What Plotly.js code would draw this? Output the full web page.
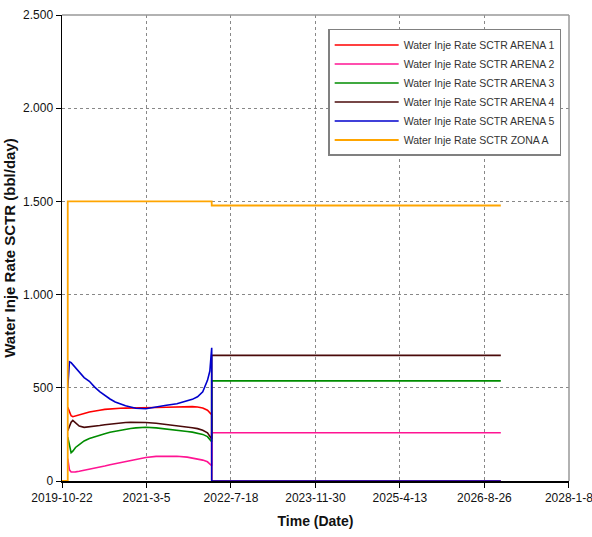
<!DOCTYPE html>
<html>
<head>
<meta charset="utf-8">
<script src="https://cdn.plot.ly/plotly-3.0.1.min.js"></script>
<style>html,body{margin:0;padding:0;background:#fff;}#chart{width:592px;height:537px;}</style>
</head>
<body>
<div id="chart"></div>
<script>
// Shared date grid for the ARENA series (pre-shut-in period)
const dates = ['2019-11-25','2019-12-05','2019-12-15','2019-12-25','2020-01-10','2020-02-01','2020-03-01','2020-04-01','2020-05-01','2020-06-01','2020-07-01','2020-08-01','2020-09-01','2020-10-01','2020-11-01','2020-12-01','2021-01-01','2021-03-01','2021-05-01','2021-07-01','2021-09-01','2021-11-01','2021-12-01','2022-01-01','2022-02-01','2022-03-01','2022-03-15','2022-03-26'];
// Later period: constant rates from switch date to end
const switchDate = '2022-03-26';
const endDate = '2026-12-01';

const arena1 = [395,370,350,345,350,355,362,370,376,380,384,387,389,390,391,391,392,393,394,396,398,399,399,397,392,380,368,355];
const arena2 = [120,60,48,47,49,52,57,62,67,73,80,87,93,99,105,111,117,126,132,134,133,128,124,119,112,103,93,82];
const arena3 = [235,190,152,160,180,195,215,228,238,246,254,262,268,273,278,282,285,288,285,280,274,266,262,258,250,238,225,210];
const arena4 = [270,290,315,325,310,295,288,290,294,298,302,306,310,312,314,315,316,314,310,304,297,290,286,281,272,258,242,225];
const arena5 = [500,640,635,625,610,585,555,535,505,480,458,440,424,412,404,397,390,388,398,406,414,428,438,452,478,540,590,715];
const arenaLater = {a1: 0, a2: 259, a3: 537, a4: 674, a5: 0};

const zonaDates = ['2019-10-22','2019-11-25','2019-11-25','2022-03-26','2022-03-26','2026-12-01'];
const zonaA = [0,0,1500,1500,1478,1478];

const names = ['Water Inje Rate SCTR ARENA 1','Water Inje Rate SCTR ARENA 2','Water Inje Rate SCTR ARENA 3','Water Inje Rate SCTR ARENA 4','Water Inje Rate SCTR ARENA 5','Water Inje Rate SCTR ZONA A'];
const colors = ['#ff0000','#ff1493','#008c00','#4a0a0a','#0000cc','#ffa500'];

const yTickVals = [0,500,1000,1500,2000,2500];
const yTickText = ['0','500','1.000','1.500','2.000','2.500'];
const xTickVals = ['2019-10-22','2021-03-05','2022-07-18','2023-11-30','2025-04-13','2026-08-26','2028-01-08'];
const xTickText = ['2019-10-22','2021-3-5','2022-7-18','2023-11-30','2025-4-13','2026-8-26','2028-1-8'];

function arenaTrace(vals, later, i){
  return {
    x: dates.concat([switchDate, endDate]),
    y: vals.concat([later, later]),
    type: 'scatter', mode: 'lines', name: names[i],
    line: {color: colors[i], width: 1.6}
  };
}

const traces = [
  arenaTrace(arena1, arenaLater.a1, 0),
  arenaTrace(arena2, arenaLater.a2, 1),
  arenaTrace(arena3, arenaLater.a3, 2),
  arenaTrace(arena4, arenaLater.a4, 3),
  arenaTrace(arena5, arenaLater.a5, 4),
  {x: zonaDates, y: zonaA, type: 'scatter', mode: 'lines', name: names[5], line: {color: colors[5], width: 1.8}}
];

const layout = {
  width: 592, height: 537,
  margin: {l: 62, r: 23, t: 15, b: 56},
  paper_bgcolor: '#fff', plot_bgcolor: '#fff',
  font: {family: 'Liberation Sans, Arial, sans-serif', size: 12, color: '#222'},
  showlegend: true,
  legend: {
    x: 0.525, y: 0.97, xanchor: 'left', yanchor: 'top',
    bgcolor: '#fff', bordercolor: '#808080', borderwidth: 1.5,
    font: {size: 10.5, color: '#333'}, itemwidth: 64, tracegroupgap: 0
  },
  xaxis: {
    type: 'date', range: ['2019-10-22','2028-01-08 12:00'],
    tickmode: 'array', tickvals: xTickVals, ticktext: xTickText,
    ticklabeloverflow: 'allow',
    showgrid: true, gridcolor: '#888', griddash: 'dot', gridwidth: 1,
    showline: true, linecolor: '#000', linewidth: 1.5,
    ticks: 'outside', ticklen: 5, tickcolor: '#000',
    tickfont: {size: 12, color: '#111'},
    title: {text: 'Time (Date)', font: {size: 14, color: '#111', weight: 'bold'}, standoff: 12},
    zeroline: false
  },
  yaxis: {
    range: [0, 2500],
    tickmode: 'array', tickvals: yTickVals, ticktext: yTickText,
    showgrid: true, gridcolor: '#888', griddash: 'dot', gridwidth: 1,
    showline: true, linecolor: '#000', linewidth: 1.5,
    ticks: 'outside', ticklen: 5, tickcolor: '#000',
    tickfont: {size: 12, color: '#111'},
    title: {text: 'Water Inje Rate SCTR (bbl/day)', font: {size: 15, color: '#111', weight: 'bold'}, standoff: 4},
    zeroline: false
  },
  shapes: [
    {type: 'line', xref: 'paper', yref: 'paper', x0: 0, x1: 1, y0: 1, y1: 1, line: {color: '#999', width: 1.5}},
    {type: 'line', xref: 'paper', yref: 'paper', x0: 1, x1: 1, y0: 0, y1: 1, line: {color: '#999', width: 1.5}}
  ]
};

Plotly.newPlot('chart', traces, layout, {displayModeBar: false, staticPlot: true});
</script>
</body>
</html>
